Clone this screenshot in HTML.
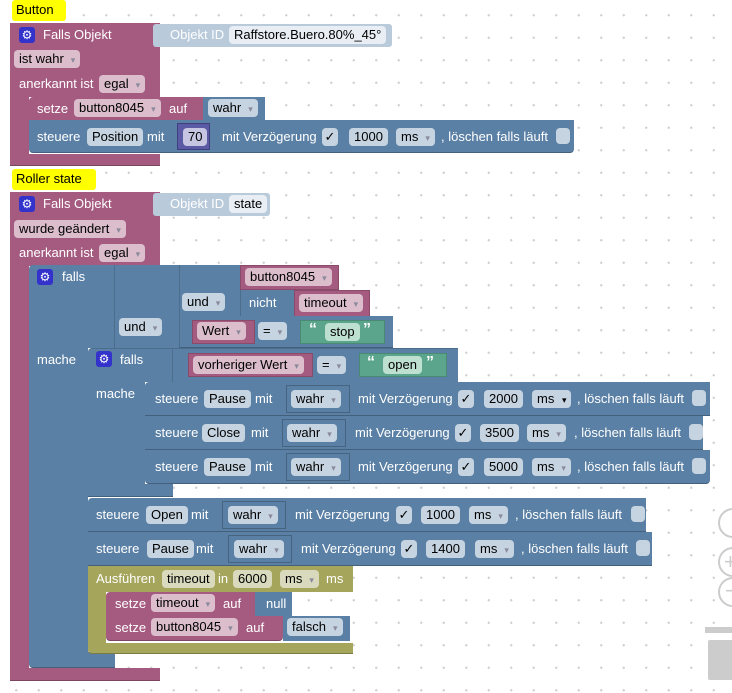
<!DOCTYPE html>
<html><head><meta charset="utf-8"><style>
html,body{margin:0;padding:0}
body{width:732px;height:693px;position:relative;overflow:hidden;background-color:#fff;
background-image:radial-gradient(circle,#d0d0d0 1px,transparent 1.3px);background-size:22.5px 22.5px;background-position:5px 4px;font-family:"Liberation Sans",sans-serif}
div{position:absolute;box-sizing:border-box}
.pk{background:#a55b80}.bl{background:#5b80a5}.ol{background:#a5a55b}.gr{background:#5ba58c}.lb{background:#b9cadb}.pu{background:#5b5ba5}
.t{color:#fff;font-size:13px;line-height:16px;white-space:nowrap}
.f{border-radius:4px;height:18px;font-size:13px;line-height:18px;color:#000;padding:0 5px;white-space:nowrap}
.fp{background:#dbbdcc}.fb{background:#c6d4e1}.fo{background:#d9d9bd}.fg{background:#bde0d1}
.dd::after{content:"▾";margin-left:7px;font-size:9px;color:#8a8a9a}
.cm{background:#ff0;border-radius:3px;padding:2px 4px;font-size:13px;line-height:16px;color:#000}
.gear{width:16px;height:16px;background:#3333cc;border-radius:3px;color:#fff;font-size:12px;line-height:16px;text-align:center}
.sh{border-bottom:1px solid rgba(0,0,0,.25)}
.cb{width:14px;height:16px;border-radius:4px;background:#c6d4e1}
.ck{width:16px;height:18px;border-radius:4px;background:#c6d4e1;color:#000;font-size:13px;line-height:18px;text-align:center}
.wb{border:1px solid #46637f}
</style></head><body>

<!-- BLOCK 1 -->
<div class="cm" style="left:12px;top:0;width:54px;height:21px">Button</div>
<div class="pk" style="left:10px;top:23px;width:150px;height:74px"></div>
<div class="pk" style="left:10px;top:97px;width:19px;height:58px"></div>
<div class="pk sh" style="left:10px;top:154px;width:150px;height:12px"></div>
<div class="gear" style="left:19px;top:27px">⚙</div>
<div class="t" style="left:43px;top:27px">Falls Objekt</div>
<div class="lb" style="left:153px;top:24px;width:239px;height:23px;border-radius:3px"></div>
<div class="t" style="left:170px;top:27px">Objekt ID</div>
<div class="f" style="left:229px;top:26px;background:#e8eef4">Raffstore.Buero.80%_45°</div>
<div class="f fp dd" style="left:14px;top:50px">ist wahr</div>
<div class="t" style="left:19px;top:76px">anerkannt ist</div>
<div class="f fp dd" style="left:99px;top:75px">egal</div>

<div class="pk" style="left:29px;top:97px;width:174px;height:23px;border-radius:4px 0 0 0"></div>
<div class="t" style="left:37px;top:101px">setze</div>
<div class="f fp dd" style="left:74px;top:99px">button8045</div>
<div class="t" style="left:169px;top:101px">auf</div>
<div class="bl" style="left:203px;top:97px;width:62px;height:23px"></div>
<div class="f fb dd" style="left:208px;top:99px">wahr</div>

<div class="bl sh" style="left:29px;top:120px;width:545px;height:33px;border-radius:0 0 4px 4px"></div>
<div class="t" style="left:37px;top:129px">steuere</div>
<div class="f fb" style="left:87px;top:128px">Position</div>
<div class="t" style="left:147px;top:129px">mit</div>
<div class="pu" style="left:177px;top:123px;width:33px;height:27px;border:1px solid #3f3f80"></div>
<div class="f fb" style="left:183px;top:128px;background:#c6c6e2">70</div>
<div class="t" style="left:222px;top:129px">mit Verzögerung</div>
<div class="ck" style="left:322px;top:128px">✓</div>
<div class="f fb" style="left:349px;top:128px">1000</div>
<div class="f fb dd" style="left:396px;top:128px">ms</div>
<div class="t" style="left:441px;top:129px">, löschen falls läuft</div>
<div class="cb" style="left:556px;top:128px"></div>

<!-- BLOCK 2 -->
<div class="cm" style="left:12px;top:169px;width:84px;height:21px">Roller state</div>
<div class="pk" style="left:10px;top:192px;width:150px;height:74px"></div>
<div class="pk" style="left:10px;top:266px;width:19px;height:404px"></div>
<div class="pk sh" style="left:10px;top:668px;width:150px;height:13px"></div>
<div class="gear" style="left:19px;top:196px">⚙</div>
<div class="t" style="left:43px;top:196px">Falls Objekt</div>
<div class="lb" style="left:153px;top:193px;width:117px;height:23px;border-radius:3px"></div>
<div class="t" style="left:170px;top:196px">Objekt ID</div>
<div class="f" style="left:229px;top:195px;background:#e8eef4">state</div>
<div class="f fp dd" style="left:14px;top:220px">wurde geändert</div>
<div class="t" style="left:19px;top:245px">anerkannt ist</div>
<div class="f fp dd" style="left:99px;top:244px">egal</div>

<!-- outer falls -->
<div class="bl" style="left:29px;top:265px;width:86px;height:83px;border-radius:4px 0 0 0"></div>
<div class="bl" style="left:29px;top:348px;width:59px;height:305px"></div>
<div class="bl sh" style="left:29px;top:652px;width:86px;height:16px;border-radius:0 0 0 4px"></div>
<div class="gear" style="left:37px;top:269px">⚙</div>
<div class="t" style="left:62px;top:269px">falls</div>
<div class="t" style="left:37px;top:352px">mache</div>

<div class="bl" style="left:114px;top:265px;width:66px;height:83px;border-left:1px solid #4d6d8c"></div>
<div class="f fb dd" style="left:119px;top:318px">und</div>
<div class="bl" style="left:179px;top:265px;width:61px;height:53px;border-left:1px solid #4d6d8c"></div>
<div class="f fb dd" style="left:182px;top:293px">und</div>
<div class="pk" style="left:240px;top:265px;width:99px;height:25px;border:1px solid #8a4a6a"></div>
<div class="f fp dd" style="left:245px;top:268px">button8045</div>
<div class="bl" style="left:240px;top:290px;width:55px;height:27px;border-left:1px solid #4d6d8c"></div>
<div class="t" style="left:249px;top:295px">nicht</div>
<div class="pk" style="left:294px;top:290px;width:76px;height:27px;border:1px solid #8a4a6a"></div>
<div class="f fp dd" style="left:299px;top:294px">timeout</div>
<div class="bl sh" style="left:179px;top:316px;width:214px;height:32px;border-left:1px solid #4d6d8c"></div>
<div class="pk" style="left:192px;top:320px;width:63px;height:24px;border:1px solid #8a4a6a"></div>
<div class="f fp dd" style="left:197px;top:322px">Wert</div>
<div class="f fb dd" style="left:258px;top:322px">=</div>
<div class="gr" style="left:300px;top:320px;width:85px;height:24px;border:1px solid #4a8a74"></div>
<div class="t" style="left:309px;top:322px;font-size:16px;font-weight:bold">“</div>
<div class="f fg" style="left:325px;top:323px">stop</div>
<div class="t" style="left:363px;top:322px;font-size:16px;font-weight:bold">”</div>

<!-- inner falls -->
<div class="bl" style="left:88px;top:348px;width:85px;height:34px;border-radius:4px 0 0 0;border-top:1px solid #4d6d8c"></div>
<div class="bl" style="left:88px;top:381px;width:57px;height:104px"></div>
<div class="bl sh" style="left:88px;top:484px;width:85px;height:13px"></div>
<div class="gear" style="left:96px;top:351px">⚙</div>
<div class="t" style="left:120px;top:352px">falls</div>
<div class="t" style="left:96px;top:386px">mache</div>
<div class="bl" style="left:172px;top:348px;width:286px;height:34px;border-left:1px solid #4d6d8c;border-top:1px solid #4d6d8c"></div>
<div class="pk" style="left:188px;top:353px;width:125px;height:24px;border:1px solid #8a4a6a"></div>
<div class="f fp dd" style="left:193px;top:356px">vorheriger Wert</div>
<div class="f fb dd" style="left:317px;top:356px">=</div>
<div class="gr" style="left:359px;top:353px;width:88px;height:24px;border:1px solid #4a8a74"></div>
<div class="t" style="left:367px;top:355px;font-size:16px;font-weight:bold">“</div>
<div class="f fg" style="left:383px;top:356px">open</div>
<div class="t" style="left:426px;top:355px;font-size:16px;font-weight:bold">”</div>

<!-- inner steuere rows -->
<div class="bl sh" style="left:145px;top:382px;width:565px;height:34px;border-radius:4px 0 0 0"></div>
<div class="t" style="left:155px;top:391px">steuere</div>
<div class="f fb" style="left:204px;top:390px">Pause</div>
<div class="t" style="left:255px;top:391px">mit</div>
<div class="bl wb" style="left:286px;top:385px;width:64px;height:28px"></div>
<div class="f fb dd" style="left:291px;top:390px">wahr</div>
<div class="t" style="left:358px;top:391px">mit Verzögerung</div>
<div class="ck" style="left:458px;top:390px">✓</div>
<div class="f fb" style="left:484px;top:390px">2000</div>
<div class="f fb" style="left:532px;top:390px">ms <span style="font-size:9px;margin-left:4px">▾</span></div>
<div class="t" style="left:577px;top:391px">, löschen falls läuft</div>
<div class="cb" style="left:692px;top:390px"></div>

<div class="bl sh" style="left:145px;top:416px;width:558px;height:34px"></div>
<div class="t" style="left:155px;top:425px">steuere</div>
<div class="f fb" style="left:202px;top:424px">Close</div>
<div class="t" style="left:251px;top:425px">mit</div>
<div class="bl wb" style="left:282px;top:419px;width:64px;height:28px"></div>
<div class="f fb dd" style="left:287px;top:424px">wahr</div>
<div class="t" style="left:355px;top:425px">mit Verzögerung</div>
<div class="ck" style="left:455px;top:424px">✓</div>
<div class="f fb" style="left:480px;top:424px">3500</div>
<div class="f fb dd" style="left:527px;top:424px">ms</div>
<div class="t" style="left:574px;top:425px">, löschen falls läuft</div>
<div class="cb" style="left:689px;top:424px"></div>

<div class="bl sh" style="left:145px;top:450px;width:565px;height:34px;border-radius:0 0 4px 4px"></div>
<div class="t" style="left:155px;top:459px">steuere</div>
<div class="f fb" style="left:204px;top:458px">Pause</div>
<div class="t" style="left:255px;top:459px">mit</div>
<div class="bl wb" style="left:286px;top:453px;width:64px;height:28px"></div>
<div class="f fb dd" style="left:291px;top:458px">wahr</div>
<div class="t" style="left:358px;top:459px">mit Verzögerung</div>
<div class="ck" style="left:458px;top:458px">✓</div>
<div class="f fb" style="left:484px;top:458px">5000</div>
<div class="f fb dd" style="left:532px;top:458px">ms</div>
<div class="t" style="left:577px;top:459px">, löschen falls läuft</div>
<div class="cb" style="left:692px;top:458px"></div>

<!-- Open / Pause rows -->
<div class="bl sh" style="left:88px;top:498px;width:558px;height:34px;border-radius:4px 0 0 0"></div>
<div class="t" style="left:96px;top:507px">steuere</div>
<div class="f fb" style="left:146px;top:506px">Open</div>
<div class="t" style="left:191px;top:507px">mit</div>
<div class="bl wb" style="left:222px;top:501px;width:64px;height:28px"></div>
<div class="f fb dd" style="left:228px;top:506px">wahr</div>
<div class="t" style="left:295px;top:507px">mit Verzögerung</div>
<div class="ck" style="left:396px;top:506px">✓</div>
<div class="f fb" style="left:421px;top:506px">1000</div>
<div class="f fb dd" style="left:469px;top:506px">ms</div>
<div class="t" style="left:515px;top:507px">, löschen falls läuft</div>
<div class="cb" style="left:631px;top:506px"></div>

<div class="bl sh" style="left:88px;top:532px;width:564px;height:34px"></div>
<div class="t" style="left:96px;top:541px">steuere</div>
<div class="f fb" style="left:147px;top:540px">Pause</div>
<div class="t" style="left:196px;top:541px">mit</div>
<div class="bl wb" style="left:228px;top:535px;width:64px;height:28px"></div>
<div class="f fb dd" style="left:234px;top:540px">wahr</div>
<div class="t" style="left:301px;top:541px">mit Verzögerung</div>
<div class="ck" style="left:401px;top:540px">✓</div>
<div class="f fb" style="left:426px;top:540px">1400</div>
<div class="f fb dd" style="left:475px;top:540px">ms</div>
<div class="t" style="left:521px;top:541px">, löschen falls läuft</div>
<div class="cb" style="left:636px;top:540px"></div>

<!-- Ausführen -->
<div class="ol" style="left:88px;top:566px;width:265px;height:26px"></div>
<div class="ol" style="left:88px;top:592px;width:18px;height:52px"></div>
<div class="ol sh" style="left:88px;top:643px;width:265px;height:11px;border-radius:0 0 0 4px"></div>
<div class="t" style="left:96px;top:571px">Ausführen</div>
<div class="f fo" style="left:162px;top:570px">timeout</div>
<div class="t" style="left:218px;top:571px">in</div>
<div class="f fo" style="left:233px;top:570px">6000</div>
<div class="f fo dd" style="left:280px;top:570px">ms</div>
<div class="t" style="left:326px;top:571px">ms</div>

<div class="pk" style="left:106px;top:592px;width:149px;height:24px;border-radius:4px 0 0 0"></div>
<div class="t" style="left:115px;top:596px">setze</div>
<div class="f fp dd" style="left:151px;top:594px">timeout</div>
<div class="t" style="left:223px;top:596px">auf</div>
<div class="bl" style="left:255px;top:592px;width:37px;height:24px"></div>
<div class="t" style="left:266px;top:596px">null</div>
<div class="pk sh" style="left:106px;top:616px;width:177px;height:25px;border-radius:0 0 4px 4px"></div>
<div class="t" style="left:115px;top:620px">setze</div>
<div class="f fp dd" style="left:151px;top:618px">button8045</div>
<div class="t" style="left:246px;top:620px">auf</div>
<div class="bl" style="left:283px;top:616px;width:67px;height:25px"></div>
<div class="f fb dd" style="left:287px;top:618px">falsch</div>

<!-- workspace controls -->
<div style="left:718px;top:508px;width:30px;height:30px;border:2px solid #ccc;border-radius:50%"></div>
<div style="left:718px;top:547px;width:30px;height:30px;border:2px solid #ccc;border-radius:50%;color:#ccc;font-size:22px;line-height:26px;padding-left:4px">+</div>
<div style="left:718px;top:577px;width:30px;height:30px;border:2px solid #ccc;border-radius:50%;color:#ccc;font-size:22px;line-height:24px;padding-left:5px">−</div>
<div style="left:705px;top:627px;width:30px;height:6px;background:#ccc"></div>
<div style="left:708px;top:640px;width:30px;height:40px;background:#ccc;border-radius:2px"></div>
</body></html>
